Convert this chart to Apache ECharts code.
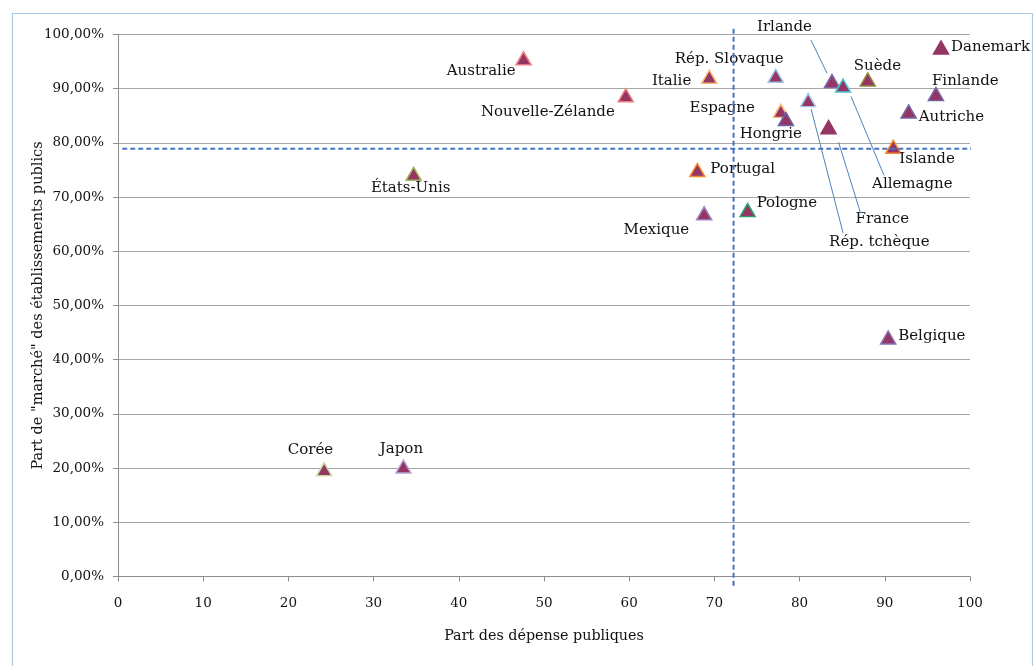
<!DOCTYPE html>
<html>
<head>
<meta charset="utf-8">
<title>Part de marché des établissements publics</title>
<script src="https://cdn.jsdelivr.net/npm/echarts@6/dist/echarts.min.js"></script>
<style>
  html, body { margin: 0; padding: 0; background: #ffffff; }
  #chart { width: 1033px; height: 666px; }
</style>
</head>
<body>
<div id="chart"></div>
<script>
// Pays
const countries = [
  'Australie', 'Italie', 'Rép. Slovaque', 'Nouvelle-Zélande', 'Irlande', 'Allemagne',
  'Suède', 'Danemark', 'Finlande', 'Autriche', 'Rép. tchèque', 'Espagne', 'Hongrie',
  'France', 'Islande', 'Portugal', 'États-Unis', 'Mexique', 'Pologne', 'Belgique',
  'Corée', 'Japon'
];
// Part des dépenses publiques (axe horizontal)
const publicSpending = [
  47.6, 69.4, 77.2, 59.6, 83.8, 85.1,
  88.0, 96.6, 96.0, 92.8, 81.0, 77.8, 78.4,
  83.4, 91.0, 68.0, 34.7, 68.8, 73.9, 90.4,
  24.2, 33.5
];
// Part de « marché » des établissements publics, en % (axe vertical)
const publicMarketShare = [
  95.6, 92.2, 92.4, 88.8, 91.4, 90.6,
  91.7, 97.6, 89.0, 85.8, 87.9, 85.9, 84.4,
  82.9, 79.3, 75.0, 74.3, 67.0, 67.6, 44.1,
  19.8, 20.3
];
// Moyennes tracées en pointillés
const meanSpending = 72.25;
const meanMarketShare = 78.9;
// Étendue des deux droites de moyenne
const meanVerticalSpan = [-1.7, 101.3];
const meanHorizontalSpan = [0.5, 106.9];
// Graduations
const xTicks = { min: 0, max: 100, interval: 10 };
const yTicks = { min: 0, max: 100, interval: 10 };

// Contour de chaque marqueur
const borderColors = {
  'Australie': '#EE7F80', 'Italie': '#F9B574', 'Rép. Slovaque': '#9DC3E6',
  'Nouvelle-Zélande': '#EE7F80', 'Irlande': '#7E66A8', 'Allemagne': '#4BC6D2',
  'Suède': '#8C8C3A', 'Danemark': '#953563', 'Finlande': '#7363A8',
  'Autriche': '#6F64A6', 'Rép. tchèque': '#A7C9EA', 'Espagne': '#FAB878',
  'Hongrie': '#6A66AE', 'France': '#953563', 'Islande': '#F58A2E',
  'Portugal': '#F58A2E', 'États-Unis': '#9BBB59', 'Mexique': '#9A86C0',
  'Pologne': '#2F9E6A', 'Belgique': '#8A72B8', 'Corée': '#C9DDA6', 'Japon': '#B7A6D2'
};

// Placement des étiquettes : [dx, dy, alignement] par rapport au marqueur
const labelPlacement = {
  'Australie': [-8, 13, 'right'], 'Italie': [-18, 4, 'right'],
  'Rép. Slovaque': [8, -17, 'right'], 'Nouvelle-Zélande': [-11, 17, 'right'],
  'Irlande': [-20, -54, 'right'], 'Allemagne': [29, 99, 'left'],
  'Suède': [-14, -13, 'left'], 'Danemark': [10, 0, 'left'],
  'Finlande': [-4, -13, 'left'], 'Autriche': [10, 6, 'left'],
  'Rép. tchèque': [21, 142, 'left'], 'Espagne': [-26, -3, 'right'],
  'Hongrie': [16, 15, 'right'], 'France': [27, 92, 'left'],
  'Islande': [6, 12, 'left'], 'Portugal': [13, -1, 'left'],
  'États-Unis': [-3, 14, 'center'], 'Mexique': [-15, 17, 'right'],
  'Pologne': [9, -7, 'left'], 'Belgique': [10, -1, 'left'],
  'Corée': [9, -19, 'right'], 'Japon': [-2, -17, 'center']
};

// Traits de rappel entre certaines étiquettes et leur marqueur : [x1, y1, x2, y2]
const leaderLines = {
  'Irlande': [-21, -41, -5, -8],
  'Allemagne': [8, 11, 41, 90],
  'Rép. tchèque': [3, 9, 35, 133],
  'France': [10, 15, 32, 86]
};

const serif = 'DejaVu Serif';
const markerFill = '#953563';
const ink = '#111111';

const scatterData = countries.map((name, i) => {
  const p = labelPlacement[name];
  return {
    name: name,
    value: [publicSpending[i], publicMarketShare[i]],
    itemStyle: { color: markerFill, borderColor: borderColors[name], borderWidth: 1.5, opacity: 1 },
    label: { offset: [p[0], p[1]], align: p[2] }
  };
});

const leaderData = countries
  .map((name, i) => ({ name: name, value: [publicSpending[i], publicMarketShare[i]] }))
  .filter(d => leaderLines[d.name]);

const pctLabel = v => v.toFixed(2).replace('.', ',') + '%';

const chart = echarts.init(document.getElementById('chart'), null, { renderer: 'canvas' });

chart.setOption({
  backgroundColor: '#ffffff',
  animation: false,
  textStyle: { fontFamily: serif },
  graphic: [{
    type: 'rect',
    left: 10, top: 11,
    shape: { width: 1020, height: 700 },
    style: { fill: 'none', stroke: '#A9C8E8', lineWidth: 1.2 },
    silent: true, z: -10
  }],
  grid: { left: 118, right: 63, top: 34.5, bottom: 89.5, containLabel: false },
  xAxis: {
    type: 'value',
    min: xTicks.min, max: xTicks.max, interval: xTicks.interval,
    name: 'Part des dépense publiques',
    nameLocation: 'middle', nameGap: 53,
    nameMoveOverlap: false,
    nameTextStyle: { fontFamily: serif, fontSize: 14.3, color: ink },
    axisLine: { show: true, lineStyle: { color: '#8c8c8c', width: 1 } },
    axisTick: { show: true, length: 5, lineStyle: { color: '#8c8c8c' } },
    axisLabel: { fontFamily: serif, fontSize: 13.5, color: ink, margin: 20 },
    splitLine: { show: false }
  },
  yAxis: {
    type: 'value',
    min: yTicks.min, max: yTicks.max, interval: yTicks.interval,
    name: 'Part de "marché" des établissements publics',
    nameLocation: 'middle', nameGap: 72,
    nameMoveOverlap: false,
    nameTextStyle: { fontFamily: serif, fontSize: 14.5, color: ink },
    axisLine: { show: true, lineStyle: { color: '#8c8c8c', width: 1 } },
    axisTick: { show: true, length: 5, lineStyle: { color: '#8c8c8c' } },
    axisLabel: { fontFamily: serif, fontSize: 13.5, color: ink, margin: 14, formatter: pctLabel },
    splitLine: { show: true, lineStyle: { color: '#a6a6a6', width: 1 } }
  },
  series: [
    {
      name: 'Pays',
      type: 'scatter',
      symbol: 'triangle',
      symbolSize: [15, 13],
      data: scatterData,
      z: 3,
      itemStyle: { opacity: 1 },
      label: {
        show: true,
        position: 'inside',
        formatter: '{b}',
        verticalAlign: 'middle',
        fontFamily: serif,
        fontSize: 15,
        color: ink
      },
      emphasis: { disabled: true }
    },
    {
      name: 'Rappels',
      type: 'custom',
      coordinateSystem: 'cartesian2d',
      data: leaderData,
      z: 4,
      silent: true,
      renderItem: (params, api) => {
        const p = api.coord([api.value(0), api.value(1)]);
        const name = leaderData[params.dataIndex].name;
        const o = leaderLines[name];
        return {
          type: 'line',
          shape: { x1: p[0] + o[0], y1: p[1] + o[1], x2: p[0] + o[2], y2: p[1] + o[3] },
          style: { stroke: '#4F81BD', lineWidth: 1 }
        };
      }
    },
    {
      name: 'Moyenne dépenses',
      type: 'line',
      data: meanVerticalSpan.map(y => [meanSpending, y]),
      symbol: 'none',
      clip: false,
      silent: true,
      z: 5,
      lineStyle: { color: '#4472C4', width: 2, type: [5, 3] }
    },
    {
      name: 'Moyenne part de marché',
      type: 'line',
      data: meanHorizontalSpan.map(x => [x, meanMarketShare]),
      symbol: 'none',
      clip: false,
      silent: true,
      z: 5,
      lineStyle: { color: '#4472C4', width: 2, type: [5, 3] }
    }
  ]
});
</script>
</body>
</html>
